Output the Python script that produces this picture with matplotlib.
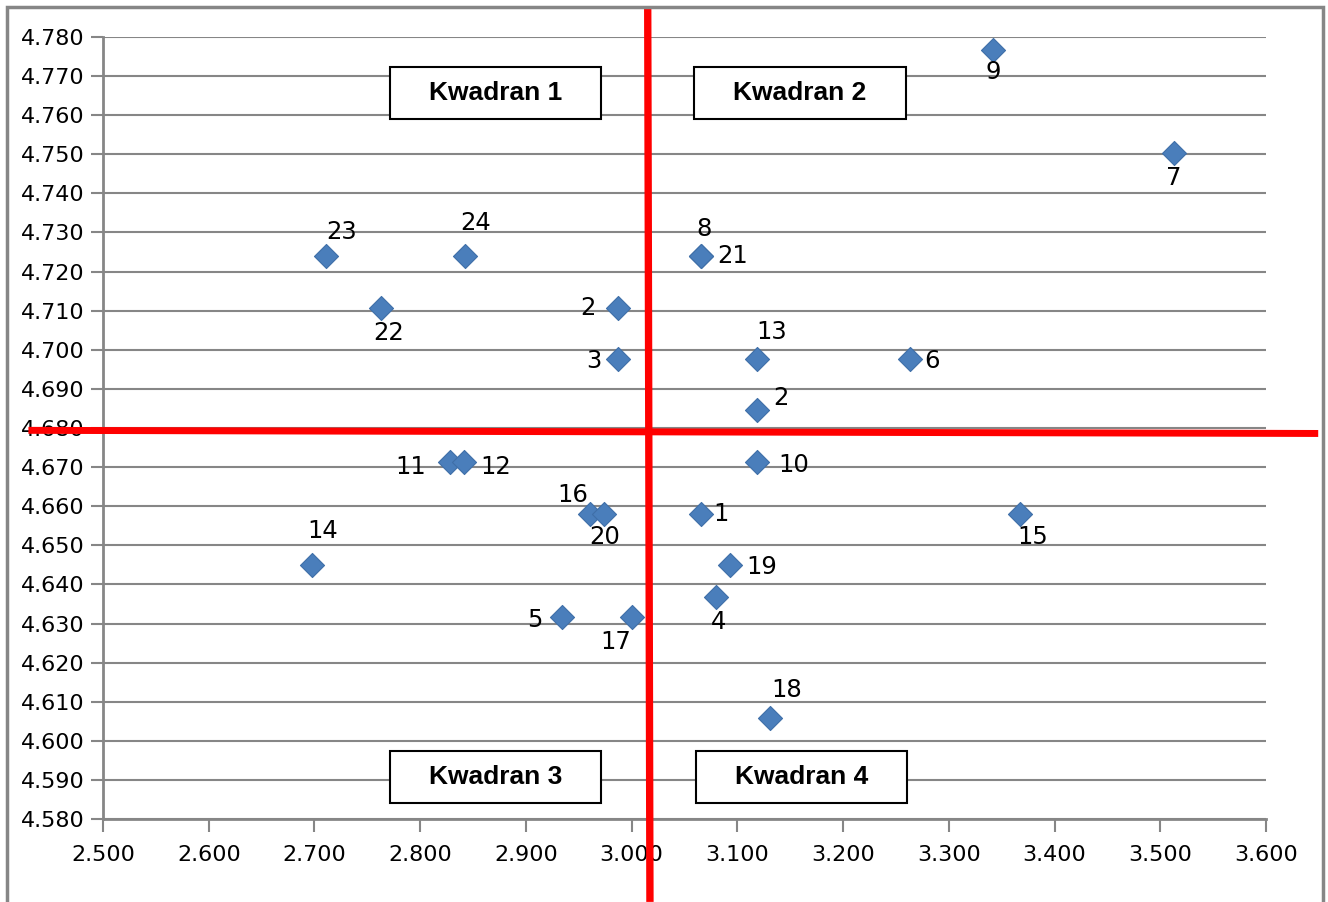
import matplotlib
matplotlib.use('Agg')
import matplotlib.pyplot as plt
from matplotlib.patches import Rectangle

# data
labels = ['9', '7', '23', '24', '8', '21', '22', '2', '3', '13', '6', '2',
          '11', '12', '10', '16', '20', '1', '15', '14', '19', '4', '5', '17', '18']
xs = [3.342, 3.513, 2.711, 2.842, 3.066, 3.066, 2.763, 2.987, 2.987, 3.119, 3.263, 3.119,
      2.828, 2.841, 3.119, 2.961, 2.974, 3.066, 3.367, 2.698, 3.093, 3.080, 2.934, 3.000, 3.131]
ys = [4.7767, 4.7503, 4.7240, 4.7240, 4.7240, 4.7240, 4.7107, 4.7107, 4.6977, 4.6977, 4.6977, 4.6846,
      4.6713, 4.6713, 4.6713, 4.6580, 4.6580, 4.6580, 4.6580, 4.6450, 4.6450, 4.6368, 4.6317, 4.6317, 4.6058]
# label offsets from the point, in pixels
offsets = [(0, -22), (0, -25), (16, 24), (11, 33), (3, 27), (31, 0), (8, -25), (-30, 0), (-24, -2),
           (14, 27), (22, -2), (23, 12), (-39, -5), (32, -5), (36, -3), (-18, 19), (1, -23), (20, 0),
           (13, -23), (10, 34), (32, -2), (2, -25), (-27, -3), (-16, -25), (17, 28)]

x_cut = [3.0152, 3.0173]
y_cut = [4.6794, 4.6786]
quadrants = ['Kwadran 1', 'Kwadran 2', 'Kwadran 3', 'Kwadran 4']
# box extents: x0, x1, y0, y1 in data units
quad_boxes = [(2.7714, 2.971, 4.759, 4.7723), (3.059, 3.2595, 4.759, 4.7723),
              (2.7714, 2.971, 4.5841, 4.5974), (3.0609, 3.2604, 4.5841, 4.5974)]

grey = '#868686'
fig = plt.figure(figsize=(13.28, 9.02), dpi=100)
ax = fig.add_axes([0.0776, 0.092, 0.8757, 0.867])

ax.scatter(xs, ys, marker='D', s=150, color='#4A7EBB', edgecolors='#3F6FA8', linewidths=0.8, zorder=3)
for lab, x, y, (dx, dy) in zip(labels, xs, ys, offsets):
    ax.annotate(lab, (x, y), xytext=(dx, dy), textcoords='offset pixels',
                ha='center', va='center', fontsize=17.5, color='black', zorder=4)

ax.set_xlim(2.5, 3.6)
ax.set_ylim(4.58, 4.78)
ax.set_xticks([2.5 + 0.1 * i for i in range(12)])
ax.set_yticks([4.58 + 0.01 * i for i in range(21)])
ax.xaxis.set_major_formatter(matplotlib.ticker.FormatStrFormatter('%.3f'))
ax.yaxis.set_major_formatter(matplotlib.ticker.FormatStrFormatter('%.3f'))
ax.tick_params(direction='out', length=9, width=1.5, color=grey, labelsize=16, pad=4)
ax.tick_params(axis='x', pad=10)
ax.grid(axis='y', color=grey, linewidth=1.5)
ax.set_axisbelow(True)
for s in ['top', 'right']:
    ax.spines[s].set_visible(False)
for s in ['left', 'bottom']:
    ax.spines[s].set_color(grey)
    ax.spines[s].set_linewidth(2)

# quadrant divider lines, running past the plot area
ax.plot(x_cut, [4.7872, 4.5588], color='red', linewidth=5.3, clip_on=False, zorder=5,
        solid_capstyle='butt')
ax.plot([2.4294, 3.6494], y_cut, color='red', linewidth=5, clip_on=False, zorder=5,
        solid_capstyle='butt')

for q, (x0, x1, y0, y1) in zip(quadrants, quad_boxes):
    ax.add_patch(Rectangle((x0, y0), x1 - x0, y1 - y0, facecolor='white', edgecolor='black',
                           linewidth=1.5, zorder=6))
    ax.text((x0 + x1) / 2, (y0 + y1) / 2, q, ha='center', va='center', fontsize=19,
            fontweight='bold', family='Liberation Sans', zorder=7)

fig.patches.append(Rectangle((7 / 1328, -0.05), 1316 / 1328, 1.05 - 7 / 902, transform=fig.transFigure,
                             fill=False, edgecolor=grey, linewidth=2.5))

fig.savefig('out.png', dpi=100)
